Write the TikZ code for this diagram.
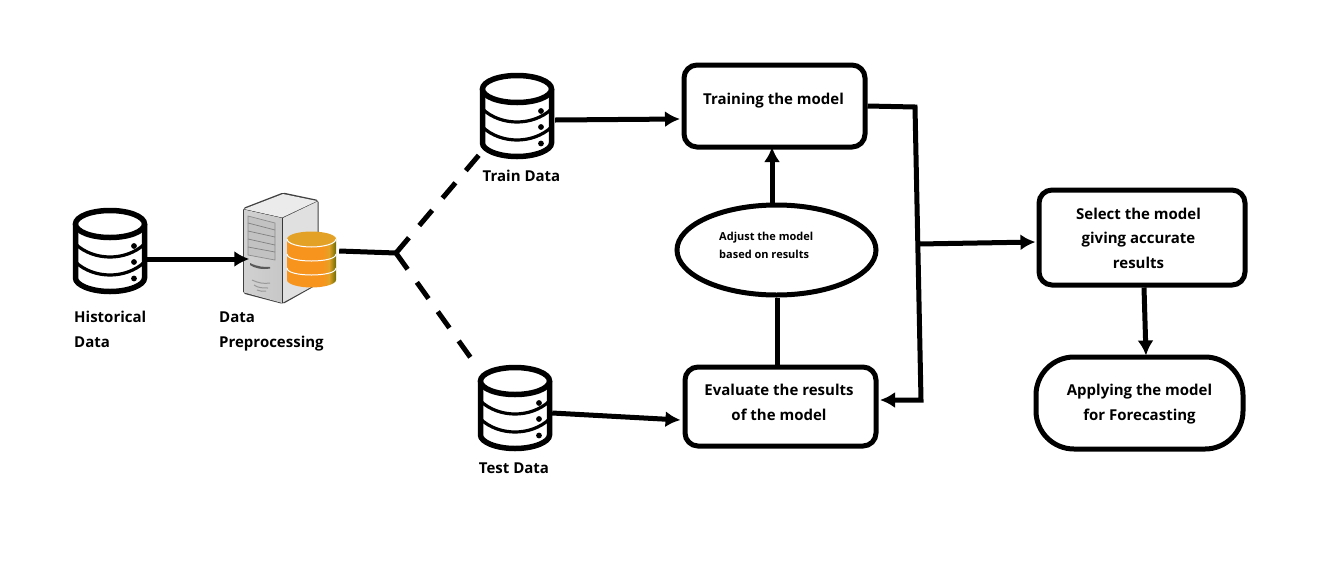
\documentclass[tikz,border=0pt]{standalone}
\usepackage{fontspec}
\setmainfont{Open Sans}
\usetikzlibrary{arrows.meta,shapes.geometric,calc}
\definecolor{dbtop}{RGB}{227,162,38}
\definecolor{dbbody}{RGB}{247,148,29}
\pgfdeclarehorizontalshading{cylshade}{100bp}{color(0bp)=(dbbody); color(62bp)=(dbbody); color(68bp)=(dbtop); color(75bp)=(olive!85!black); color(100bp)=(olive!85!black)}
\tikzset{
  flow/.style={line width=5pt,line join=miter,-{Latex[length=15pt,width=16pt]}},
  plainline/.style={line width=5pt},
  dashline/.style={line width=5pt,dash pattern=on 20pt off 16pt},
  boxn/.style={draw=black,line width=5pt,rounded corners=13pt,fill=white,inner sep=0pt,align=center},
  lbl/.style={font=\fontsize{15}{24.5}\selectfont\bfseries,inner sep=0pt,align=left},
  ctr/.style={font=\fontsize{15}{24.5}\selectfont\bfseries,inner sep=0pt,align=center},
  small/.style={font=\fontsize{11}{18}\selectfont\bfseries,inner sep=0pt,align=left},
  holder/.style={inner sep=0pt,minimum width=74pt,minimum height=86pt},
  pics/dbase/.style={code={
    \draw[line width=5.5pt,fill=white] (-34.5,-27) -- (-34.5,27)
       .. controls (-34.5,34) and (-19,40.5) .. (0,40.5)
       .. controls (19,40.5) and (34.5,34) .. (34.5,27) -- (34.5,-27);
    \draw[line width=5.5pt,fill=white] (0,-27) ellipse [x radius=34.5pt,y radius=13.5pt];
    \draw[line width=3.2pt] (-34.5,-7) .. controls (-25,2) and (-12,6) .. (0,6) .. controls (12,6) and (25,2) .. (34.5,-7);
    \draw[line width=3.2pt] (-34.5,11) .. controls (-25,20) and (-12,24) .. (0,24) .. controls (12,24) and (25,20) .. (34.5,11);
    \fill (24,-5) circle (2.9pt) (24,11) circle (2.9pt) (24,27.5) circle (2.9pt);
  }}
}
\begin{document}
\begin{tikzpicture}[x=1pt,y=-1pt]
\useasboundingbox (0,0) rectangle (1319,587);
\fill[white] (0,0) rectangle (1319,587);

% databases
\node[holder] (hist) at (110,251) {};
\pic at (110,251) {dbase};
\node[holder] (traindb) at (517,116) {};
\pic at (517,116) {dbase};
\node[holder] (testdb) at (515,408) {};
\pic at (515,408) {dbase};

% server
\node[inner sep=0pt,minimum width=94pt,minimum height=110pt] (server) at (290,248) {};
\begin{scope}
  \fill[black!75,rounded corners=2pt] (243,208) -- (283,192.5) -- (318.5,200) -- (318.5,284) -- (283,304) -- (243,293.5) -- cycle;
  \fill[black!8] (244,209) -- (283,194) -- (317,201) -- (282,217.5) -- cycle;
  \fill[left color=black!18,right color=black!22] (244,209.5) -- (282,218) -- (282,303) -- (244,292.5) -- cycle;
  \fill[black!12] (283,218) -- (317.5,201.5) -- (317.5,283.5) -- (283,302.5) -- cycle;
  \fill[black!24] (248,216) -- (275,223) -- (275,260) -- (248,255) -- cycle;
  \draw[black!45,line width=.7pt] (248,216) -- (275,223) -- (275,260) -- (248,255) -- cycle;
  \draw[black!50,line width=.7pt] (248,223) -- (275,230) (248,231) -- (275,237) (248,239) -- (275,245) (248,247) -- (275,252);
  \fill[black!65] (250,263) .. controls (258,267) and (264,267) .. (270,267) -- (270,268.5) .. controls (262,270) and (254,268) .. (250,265) -- cycle;
  \draw[black!40,line width=1pt] (252,280) .. controls (258,283) and (264,284) .. (270,283);
  \draw[black!40,line width=1pt] (254,285) .. controls (258,288) and (263,288) .. (268,288);
  \draw[black!40,line width=1pt] (257,290) .. controls (260,291) and (263,292) .. (266,291);
  % orange cylinder
  \shade[shading=cylshade] (287,239) -- (287,280) .. controls (287,284.5) and (300,287.5) .. (311.5,287.5) .. controls (323,287.5) and (336,284.5) .. (336,280) -- (336,239) -- cycle;
  \fill[dbtop] (311.5,239) ellipse [x radius=24.5pt,y radius=7.5pt];
  \draw[white,line width=1pt] (287,239) .. controls (287,244) and (300,247) .. (311.5,247) .. controls (323,247) and (336,244) .. (336,239);
  \draw[white,line width=1pt] (287,254) .. controls (287,259) and (300,261) .. (311.5,261) .. controls (323,261) and (336,259) .. (336,254);
  \draw[white,line width=1pt] (287,268) .. controls (287,273) and (300,275) .. (311.5,275) .. controls (323,275) and (336,273) .. (336,268);
\end{scope}

% boxes
\node[boxn,minimum width=181pt,minimum height=82pt] (training) at (774.5,106) {};
\node[boxn,minimum width=191pt,minimum height=79pt] (evaluate) at (780.5,406.5) {};
\node[boxn,minimum width=206pt,minimum height=95pt] (select) at (1142,237.5) {};
\node[boxn,rounded corners=38pt,minimum width=207pt,minimum height=92pt] (apply) at (1139.5,403) {};
\node[draw=black,line width=5pt,ellipse,fill=white,inner sep=0pt,minimum width=199pt,minimum height=90pt] (adjust) at (776.5,250) {};

% texts
\node[ctr] (t1) at (773.5,100.5) {Training the model};
\node[ctr] (t2) at (779,402.5) {Evaluate the results\\of the model};
\node[ctr] (t3) at (1138.5,238) {Select the model\\giving accurate\\results};
\node[ctr] (t4) at (1139.5,404) {Applying the model\\for Forecasting};
\node[small,anchor=west] (t5) at (719,245) {Adjust the model\\based on results};
\node[lbl,anchor=north west] (l1) at (74,311) {Historical\\Data};
\node[lbl,anchor=north west] (l2) at (219,312) {Data\\Preprocessing};
\node[ctr] (l3) at (521.5,176) {Train Data};
\node[ctr] (l4) at (514,468) {Test Data};

% connectors
\coordinate (junction) at (396,253);
\coordinate (elbowTop) at (915,107);
\coordinate (elbowBot) at (921,400);
\coordinate (branch) at (918.5,244);
\coordinate (dashTop) at (479,155);
\coordinate (dashBot) at (470.5,357.5);

\draw[flow] ($(hist.east)+(0,8)$) -- ($(server.west)+(6.5,11)$);
\draw[plainline] ($(server.east)+(2,3)$) -- (junction);
\draw[dashline] (junction) -- (dashTop);
\draw[dashline] (junction) -- (dashBot);
\draw[flow] ($(traindb.east)+(1,4)$) -- ($(training.west)+(-1.5,13)$);
\draw[flow] ($(testdb.east)+(0,5)$) -- ($(evaluate.west)+(-2,13.5)$);
\draw[flow] ($(adjust.north)+(-4.5,0)$) -- ($(training.south)+(-2.5,-2.5)$);
\draw[plainline] ($(evaluate.north)+(-3.5,0)$) -- ($(adjust.south)+(.5,0)$);
\draw[flow] (training.east) -- (elbowTop) -- (elbowBot) -- ($(evaluate.east)+(1.5,-6.5)$);
\draw[flow] (branch) -- ($(select.west)+(-1,4.5)$);
\draw[flow] ($(select.south)+(2,0)$) -- ($(apply.north)+(6.5,1)$);
\end{tikzpicture}
\end{document}
